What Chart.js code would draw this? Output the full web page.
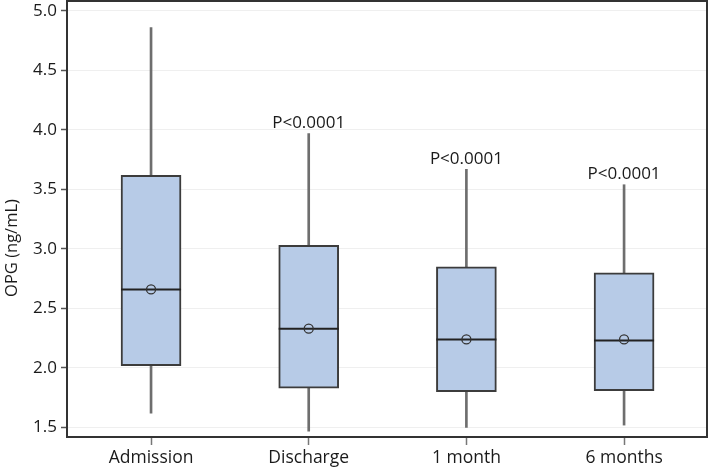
<!DOCTYPE html>
<html>
<head>
<meta charset="utf-8">
<script src="https://cdn.jsdelivr.net/npm/chart.js"></script>
<style>
  body { margin: 0; background: #fff; }
  canvas { display: block; }
</style>
</head>
<body>
<canvas id="chartOPG" width="709" height="472"></canvas>
<script>
// du lieu doc tu hinh
const categories = ['Admission', 'Discharge', '1 month', '6 months'];
const whiskerMin = [1.62, 1.47, 1.50, 1.52];
const q1 = [2.02, 1.83, 1.80, 1.81];
const medians = [2.66, 2.33, 2.24, 2.23];
const means = [2.66, 2.33, 2.24, 2.24];
const q3 = [3.62, 3.03, 2.85, 2.80];
const whiskerMax = [4.86, 3.97, 3.67, 3.54];
const pLabels = ['', 'P<0.0001', 'P<0.0001', 'P<0.0001'];
const yTicks = [1.5, 2.0, 2.5, 3.0, 3.5, 4.0, 4.5, 5.0];
const yTitle = 'OPG (ng/mL)';

const FONT = '"Open Sans", "Noto Sans", sans-serif';

// khung vien, tieu de truc y va nhan P
const boxPlugin = {
  id: 'boxExtras',
  afterDatasetsDraw(chart) {
    const ctx = chart.ctx;
    const xs = chart.scales.x, ys = chart.scales.y;
    const a = chart.chartArea;
    ctx.save();
    ctx.font = '17px ' + FONT;
    ctx.fillStyle = '#1a1a1a';
    ctx.textAlign = 'center';
    ctx.textBaseline = 'bottom';
    pLabels.forEach((t, i) => {
      if (!t) return;
      ctx.fillText(t, xs.getPixelForValue(i + 1), ys.getPixelForValue(whiskerMax[i]) - 2);
    });
    ctx.strokeStyle = '#333';
    ctx.lineWidth = 2;
    ctx.strokeRect(a.left, a.top, a.right - a.left, a.bottom - a.top);
    // tieu de truc y (lech xuong mot chut nhu hinh goc)
    ctx.translate(12, (a.top + a.bottom) / 2 + 29);
    ctx.rotate(-Math.PI / 2);
    ctx.font = '16.5px ' + FONT;
    ctx.textBaseline = 'middle';
    ctx.fillText(yTitle, 0, 0);
    ctx.restore();
  }
};

const ctx = document.getElementById('chartOPG').getContext('2d');
new Chart(ctx, {
  type: 'bar',
  data: {
    datasets: [
      {
        label: 'whisker',
        data: categories.map((c, i) => ({ x: i + 1, y: [whiskerMin[i], whiskerMax[i]] })),
        backgroundColor: '#6e6e6e',
        borderWidth: 0,
        barThickness: 2,
        grouped: false,
        order: 3
      },
      {
        label: 'box',
        data: categories.map((c, i) => ({ x: i + 1, y: [q1[i], q3[i]] })),
        backgroundColor: '#b7cbe7',
        borderColor: '#3c3c3c',
        borderWidth: 2,
        borderSkipped: false,
        barThickness: 60,
        grouped: false,
        order: 2
      },
      {
        type: 'line',
        label: 'median',
        data: categories.map((c, i) => ({ x: i + 1, y: medians[i] })),
        showLine: false,
        pointStyle: 'line',
        pointRadius: 30,
        pointBorderWidth: 2,
        pointBorderColor: '#222',
        order: 1
      },
      {
        type: 'line',
        label: 'mean',
        data: categories.map((c, i) => ({ x: i + 1, y: means[i] })),
        showLine: false,
        pointStyle: 'circle',
        pointRadius: 4.5,
        pointBorderWidth: 1.3,
        pointBorderColor: '#333',
        pointBackgroundColor: 'rgba(0,0,0,0)',
        order: 0
      }
    ]
  },
  options: {
    responsive: false,
    animation: false,
    layout: { autoPadding: false, padding: { top: 1, right: 2, left: 0, bottom: 0 } },
    plugins: { legend: { display: false }, tooltip: { enabled: false } },
    scales: {
      x: {
        type: 'linear',
        offset: false,
        min: 0.467,
        max: 4.526,
        afterBuildTicks: (s) => { s.ticks = categories.map((c, i) => ({ value: i + 1 })); },
        afterFit: (s) => { s.height = 35; s.paddingLeft = 0; s.paddingRight = 0; },
        ticks: {
          callback: (v) => categories[v - 1],
          font: { family: FONT, size: 17.5 },
          color: '#1a1a1a',
          padding: 3,
          autoSkip: false,
          maxRotation: 0
        },
        grid: { offset: false, drawOnChartArea: false, drawTicks: true, tickLength: 8, tickColor: '#777', tickWidth: 1.5 },
        border: { display: false }
      },
      y: {
        min: 1.42,
        max: 5.084,
        afterBuildTicks: (s) => { s.ticks = yTicks.map(v => ({ value: v })); },
        afterFit: (s) => { s.width = 67; s.paddingTop = 0; s.paddingBottom = 0; },
        ticks: {
          callback: (v) => v.toFixed(1),
          font: { family: FONT, size: 17 },
          color: '#1a1a1a',
          padding: 4
        },
        grid: { color: '#efefef', lineWidth: 1, tickLength: 6, tickColor: '#555', tickWidth: 1.5 },
        border: { display: false }
      }
    }
  },
  plugins: [boxPlugin]
});
</script>
</body>
</html>
